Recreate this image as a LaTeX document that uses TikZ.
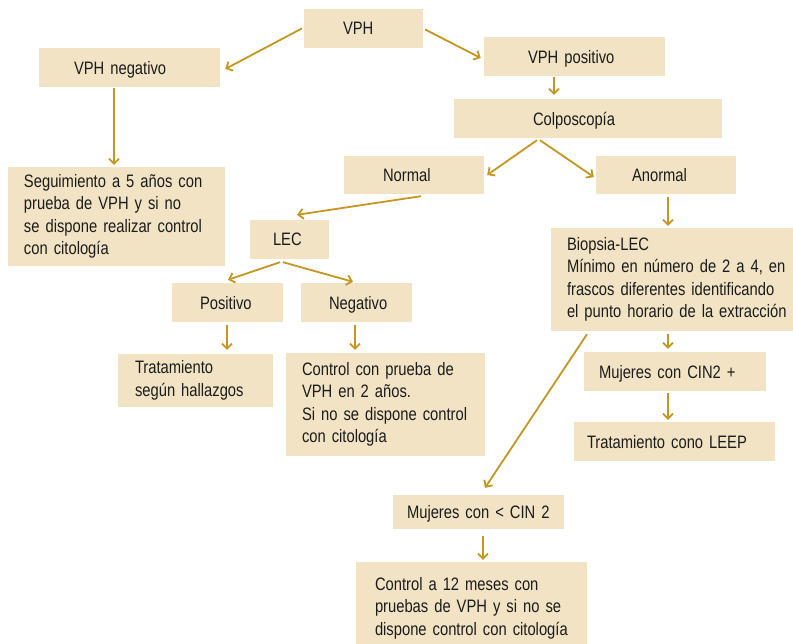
\documentclass[tikz,border=0pt]{standalone}
\usepackage{fontspec}
\setmainfont[FakeStretch=0.82]{Liberation Sans}
\usetikzlibrary{arrows.meta}
\definecolor{boxfill}{HTML}{F1E3C4}
\definecolor{linkgold}{HTML}{C8961E}
\definecolor{inkdark}{HTML}{1C1C1C}
\begin{document}
\begin{tikzpicture}[x=1pt,y=-1pt,
  % card={width}{height}{left padding}
  card/.style n args={3}{fill=boxfill, text=inkdark, inner xsep=0pt, inner ysep=0pt,
    align=left, text width=#1pt, minimum height=#2pt,
    execute at begin node={\leftskip=#3pt\rightskip=-30pt plus 1fil\hyphenpenalty=10000\relax},
    font=\fontsize{18}{22.5}\selectfont},
  oneline/.style={text depth=0pt},
  link/.style={draw=linkgold, line width=1.8pt, -{Straight Barb[length=5pt,width=10pt]}}]
\useasboundingbox (0,0) rectangle (793,643);
\fill[white] (0,0) rectangle (793,643);
\clip (0,0) rectangle (793,643);

% boxes
\node[card={119}{39}{39}, oneline] (vph) at (363.5,28.5) {VPH};
\node[card={181}{39}{35}, oneline] (vphneg) at (129.5,67.5) {VPH negativo};
\node[card={181}{39}{44}, oneline] (vphpos) at (574.5,56.5) {VPH positivo};
\node[card={268}{39}{79}, oneline] (colpo) at (588,118.5) {Colposcopía};
\node[card={140}{38}{39}, oneline] (normal) at (414,175) {Normal};
\node[card={140}{38}{36}, oneline] (anormal) at (666,175) {Anormal};
\node[card={217}{99}{16}] (seg) at (116.5,216.5) {Seguimiento a 5 años con\\prueba de VPH y si no\\se dispone realizar control\\con citología};
\node[card={79}{39}{23}, oneline] (lec) at (289.5,239.5) {LEC};
\node[card={111}{39}{28}, oneline] (pos) at (227.5,302.5) {Positivo};
\node[card={111}{39}{28}, oneline] (neg) at (356.5,302.5) {Negativo};
\node[card={155}{53}{17}] (trat) at (195.5,380.5) {Tratamiento\\según hallazgos};
\node[card={199}{103}{16}] (ctrl) at (385.5,404.5) {Control con prueba de\\VPH en 2 años.\\Si no se dispone control\\con citología};
\node[card={242}{103}{16}] (biop) at (672,279.5) {Biopsia-LEC\\Mínimo en número de 2 a 4, en\\frascos diferentes identificando\\el punto horario de la extracción};
\node[card={182}{39}{15}, oneline] (cin2p) at (675,371.5) {Mujeres con CIN2 +};
\node[card={201}{39}{13}, oneline] (leep) at (674.5,441.5) {Tratamiento cono LEEP};
\node[card={171}{34}{14}, oneline] (cin2m) at (478.5,512) {Mujeres con < CIN 2};
\node[card={231}{92}{19}] (ctrl12) at (471.5,608) {Control a 12 meses con\\pruebas de VPH y si no se\\dispone control con citología};

% connectors
\draw[link] ([shift={(-2,0)}]vph.west) -- ([shift={(5,1.5)}]vphneg.east);
\draw[link] ([shift={(2,1)}]vph.east) -- ([shift={(-3,1.5)}]vphpos.west);
\draw[link] ([shift={(-15.5,1)}]vphneg.south) -- ([shift={(-2.5,-2)}]seg.north);
\draw[link] ([shift={(-20.5,1)}]vphpos.south) -- ([shift={(-34,-4)}]colpo.north);
\draw[link] ([shift={(-51,2)}]colpo.south) -- ([shift={(3,0)}]normal.east);
\draw[link] ([shift={(-48,2)}]colpo.south) -- ([shift={(-2,2)}]anormal.west);
\draw[link] ([shift={(7,2)}]normal.south) -- ([shift={(7.5,-5)}]lec.north);
\draw[link] ([shift={(2,3)}]anormal.south) -- ([shift={(-4,-2)}]biop.north);
\draw[link] ([shift={(-9.5,3)}]lec.south) -- ([shift={(0.5,-3)}]pos.north);
\draw[link] ([shift={(-6.5,3)}]lec.south) -- ([shift={(-3.5,-1)}]neg.north);
\draw[link] ([shift={(-0.5,3)}]pos.south) -- ([shift={(31.5,-4)}]trat.north);
\draw[link] ([shift={(-1.5,3)}]neg.south) -- ([shift={(-30.5,-3)}]ctrl.north);
\draw[link] ([shift={(-4,3)}]biop.south) -- ([shift={(-7,-3)}]cin2p.north);
\draw[link] ([shift={(-7,2)}]cin2p.south) -- ([shift={(-6.5,-2)}]leep.north);
\draw[link] ([shift={(-85,3)}]biop.south) -- ([shift={(6.5,-7)}]cin2m.north);
\draw[link] ([shift={(4.5,7)}]cin2m.south) -- ([shift={(11.5,-2)}]ctrl12.north);
\end{tikzpicture}
\end{document}
